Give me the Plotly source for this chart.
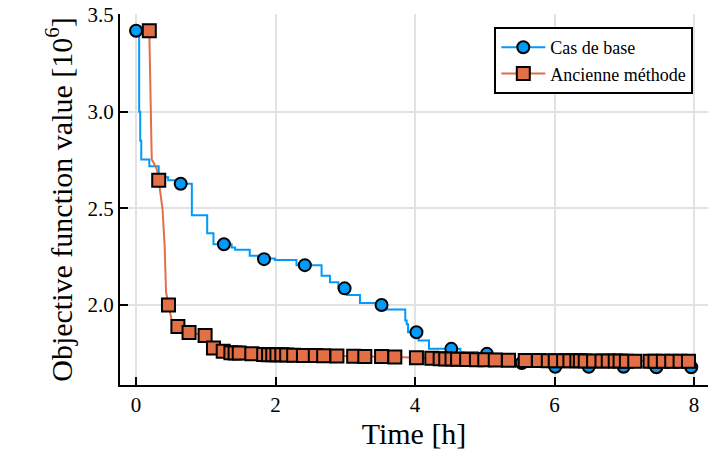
import plotly.graph_objects as go

# ---------------- data ----------------
# "Cas de base" : step curve (time [h], objective [1e6])
base_t = [0, 0.045, 0.06, 0.075, 0.19, 0.325, 0.46, 0.6, 0.8, 1.02, 1.11, 1.37, 1.42, 1.63,
          1.75, 1.99, 2.30, 2.66, 2.78, 2.9, 3.02, 3.21, 3.55, 3.86, 3.88, 3.9, 4.05, 4.2,
          4.65, 4.9, 5.2, 5.35, 5.5, 5.8, 6.0, 7.3, 7.96]
base_v = [3.418, 3.0, 2.85, 2.753, 2.718, 2.66, 2.645, 2.627, 2.464, 2.371, 2.314, 2.297, 2.285, 2.254,
          2.24, 2.232, 2.206, 2.151, 2.117, 2.086, 2.051, 2.010, 1.976, 1.919, 1.9, 1.859, 1.816, 1.773,
          1.757, 1.747, 1.735, 1.71, 1.70, 1.688, 1.68, 1.678, 1.678]
# markers of "Cas de base"
base_mt = [0, 0.64, 1.26, 1.835, 2.42, 2.99, 3.52, 4.02, 4.52, 5.03, 5.53, 6.01, 6.49, 6.99, 7.46, 7.96]
base_mv = [3.418, 2.627, 2.314, 2.237, 2.206, 2.086, 2.0, 1.859, 1.773, 1.747, 1.70, 1.68, 1.68, 1.68, 1.678, 1.678]

# "Ancienne méthode" : markers
old_mt = [0.19, 0.325, 0.465, 0.6, 0.76, 0.99, 1.11, 1.25, 1.36, 1.42, 1.48, 1.66, 1.83, 1.90, 1.96,
          2.02, 2.09, 2.16, 2.26, 2.40, 2.57, 2.69, 2.88, 3.12, 3.28, 3.52, 3.71, 4.02, 4.24, 4.36,
          4.44, 4.53, 4.61, 4.74, 4.88, 5.0, 5.15, 5.34, 5.58, 5.77, 5.91, 6.01, 6.13, 6.22, 6.32,
          6.37, 6.44, 6.56, 6.68, 6.77, 6.87, 6.94, 7.03, 7.15, 7.37, 7.44, 7.56, 7.68, 7.80, 7.92]
old_mv = [3.418, 2.645, 2.0, 1.888, 1.858, 1.842, 1.778, 1.76, 1.753, 1.752, 1.751, 1.747, 1.744, 1.743, 1.743,
          1.742, 1.742, 1.741, 1.740, 1.739, 1.738, 1.737, 1.736, 1.735, 1.734, 1.733, 1.731, 1.727, 1.724, 1.722,
          1.721, 1.720, 1.719, 1.718, 1.717, 1.716, 1.715, 1.714, 1.713, 1.713, 1.712, 1.712, 1.711, 1.711, 1.711,
          1.711, 1.710, 1.710, 1.710, 1.710, 1.710, 1.710, 1.709, 1.709, 1.709, 1.709, 1.709, 1.709, 1.709, 1.709]
# extra points of the "Ancienne méthode" curve between markers (steep part)
old_extra_t = [0.2, 0.215, 0.225, 0.25, 0.3, 0.355, 0.38, 0.41, 0.43, 0.52]
old_extra_v = [3.2, 2.9, 2.753, 2.737, 2.70, 2.546, 2.495, 2.306, 2.067, 1.907]

xticks = [0, 2, 4, 6, 8]
yticks = [2.0, 2.5, 3.0, 3.5]
ytick_labels = ["2.0", "2.5", "3.0", "3.5"]

old_line = sorted(zip(old_mt + old_extra_t, old_mv + old_extra_v))
old_lt = [p[0] for p in old_line]
old_lv = [p[1] for p in old_line]

BLUE = "#009AFA"
ORANGE = "#E26F46"
FONT = "Liberation Serif"

fig = go.Figure()
fig.add_trace(go.Scatter(x=base_t, y=base_v, mode="lines", line=dict(color=BLUE, width=2, shape="hv"),
                         showlegend=False, hoverinfo="skip"))
fig.add_trace(go.Scatter(x=old_lt, y=old_lv, mode="lines", line=dict(color=ORANGE, width=2),
                         showlegend=False, hoverinfo="skip"))
fig.add_trace(go.Scatter(x=base_mt, y=base_mv, mode="markers",
                         marker=dict(symbol="circle", size=12, color=BLUE, line=dict(color="black", width=2)),
                         showlegend=False))
fig.add_trace(go.Scatter(x=old_mt, y=old_mv, mode="markers",
                         marker=dict(symbol="square", size=13, color=ORANGE, line=dict(color="black", width=2)),
                         showlegend=False))
# legend entries
fig.add_trace(go.Scatter(x=[None], y=[None], mode="lines+markers", name="Cas de base",
                         line=dict(color=BLUE, width=2),
                         marker=dict(symbol="circle", size=12, color=BLUE, line=dict(color="black", width=2))))
fig.add_trace(go.Scatter(x=[None], y=[None], mode="lines+markers", name="Ancienne méthode",
                         line=dict(color=ORANGE, width=2),
                         marker=dict(symbol="square", size=13, color=ORANGE, line=dict(color="black", width=2))))

axis_common = dict(showgrid=True, gridcolor="#e2e2e2", gridwidth=2, zeroline=False,
                   showline=True, linecolor="black", linewidth=2, ticks="inside", ticklen=8,
                   tickwidth=2, tickcolor="black", tickfont=dict(family=FONT, size=21, color="black"),
                   mirror=False, automargin=False)

fig.update_layout(
    width=723, height=452,
    margin=dict(l=120, r=15, t=14, b=67),
    paper_bgcolor="white", plot_bgcolor="white",
    font=dict(family=FONT, color="black"),
    xaxis=dict(range=[-0.23, 8.2], tickvals=xticks,
               title=dict(text="Time [h]", font=dict(family=FONT, size=30), standoff=4),
               **axis_common),
    yaxis=dict(range=[1.586, 3.505], tickvals=yticks, ticktext=ytick_labels,
               title=dict(text="Objective function value [10<sup>6</sup>]", font=dict(family=FONT, size=30), standoff=6),
               **axis_common),
    legend=dict(x=0.975, y=0.965, xanchor="right", yanchor="top", bgcolor="white",
                bordercolor="black", borderwidth=2, font=dict(family=FONT, size=18),
                itemwidth=44, tracegroupgap=0),
)

fig.write_html("out.html")
